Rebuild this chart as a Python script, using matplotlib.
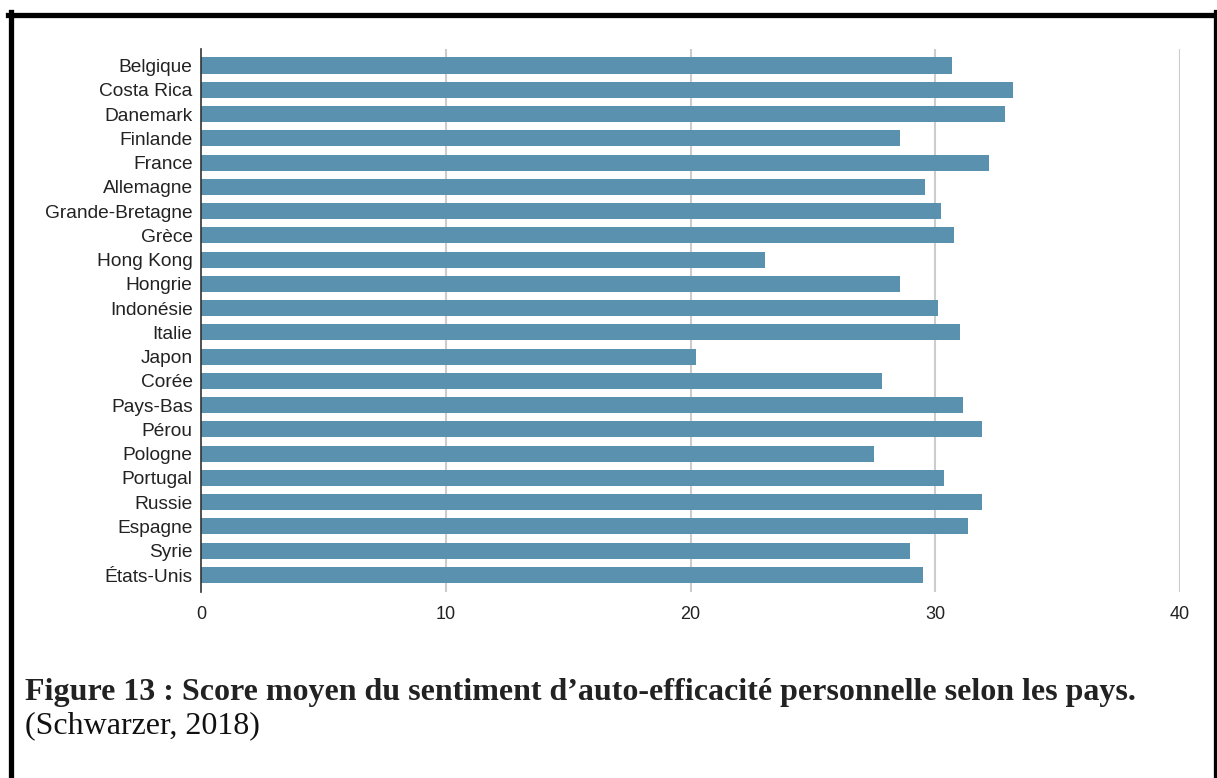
import matplotlib.pyplot as plt
from matplotlib.lines import Line2D

pays = ["Belgique", "Costa Rica", "Danemark", "Finlande", "France", "Allemagne",
        "Grande-Bretagne", "Grèce", "Hong Kong", "Hongrie", "Indonésie", "Italie",
        "Japon", "Corée", "Pays-Bas", "Pérou", "Pologne", "Portugal", "Russie",
        "Espagne", "Syrie", "États-Unis"]
scores = [30.69, 33.19, 32.86, 28.58, 32.21, 29.58, 30.23, 30.76, 23.05, 28.58,
          30.10, 31.0, 20.21, 27.83, 31.13, 31.93, 27.51, 30.35, 31.93, 31.32,
          28.97, 29.49]
ticks = [0, 10, 20, 30, 40]

W, H = 1217, 778
fig = plt.figure(figsize=(W / 100, H / 100), dpi=100)
ax = fig.add_axes([201 / W, 1 - 592 / H, (1180 - 201) / W, (592 - 49) / H])

y = list(range(len(pays)))
ax.barh(y, scores, height=0.66, color="#5a91ae", zorder=3)
ax.set_yticks(y)
ax.set_yticklabels(pays, fontsize=13.8, family="Liberation Sans", color="#222222")
ax.set_ylim(len(pays) - 0.3, -0.68)
ax.set_xlim(0, 40)
ax.set_xticks(ticks)
ax.set_xticklabels([str(t) for t in ticks], fontsize=13, family="Liberation Sans",
                   color="#222222")
ax.tick_params(axis="both", length=0)
ax.tick_params(axis="y", pad=6)
ax.tick_params(axis="x", pad=10)
for t in ticks[1:]:
    ax.axvline(t, color="#cccccc", lw=1.5, zorder=1)
for s in ["top", "right", "bottom"]:
    ax.spines[s].set_visible(False)
ax.spines["left"].set_color("#333333")
ax.spines["left"].set_linewidth(1.2)
ax.spines["left"].set_zorder(4)

# legende de la figure
fig.text(25 / W, 1 - 700 / H,
         "Figure 13 : Score moyen du sentiment d’auto-efficacité personnelle selon les pays.",
         family="Liberation Serif", fontweight="bold", fontsize=23, color="#222222")
fig.text(25 / W, 1 - 733 / H, "(Schwarzer, 2018)",
         family="Liberation Serif", fontsize=23, color="#111111")

# cadre noir du document
lw = 3.8
fig.add_artist(Line2D([8 / W, 1], [1 - 14.5 / H, 1 - 14.5 / H], color="black", lw=lw,
                      transform=fig.transFigure))
fig.add_artist(Line2D([10.5 / W, 10.5 / W], [0, 1 - 12 / H], color="black", lw=lw,
                      transform=fig.transFigure))
fig.add_artist(Line2D([1215.5 / W, 1215.5 / W], [0, 1 - 12 / H], color="black", lw=lw,
                      transform=fig.transFigure))

fig.savefig("out.png", dpi=100)
